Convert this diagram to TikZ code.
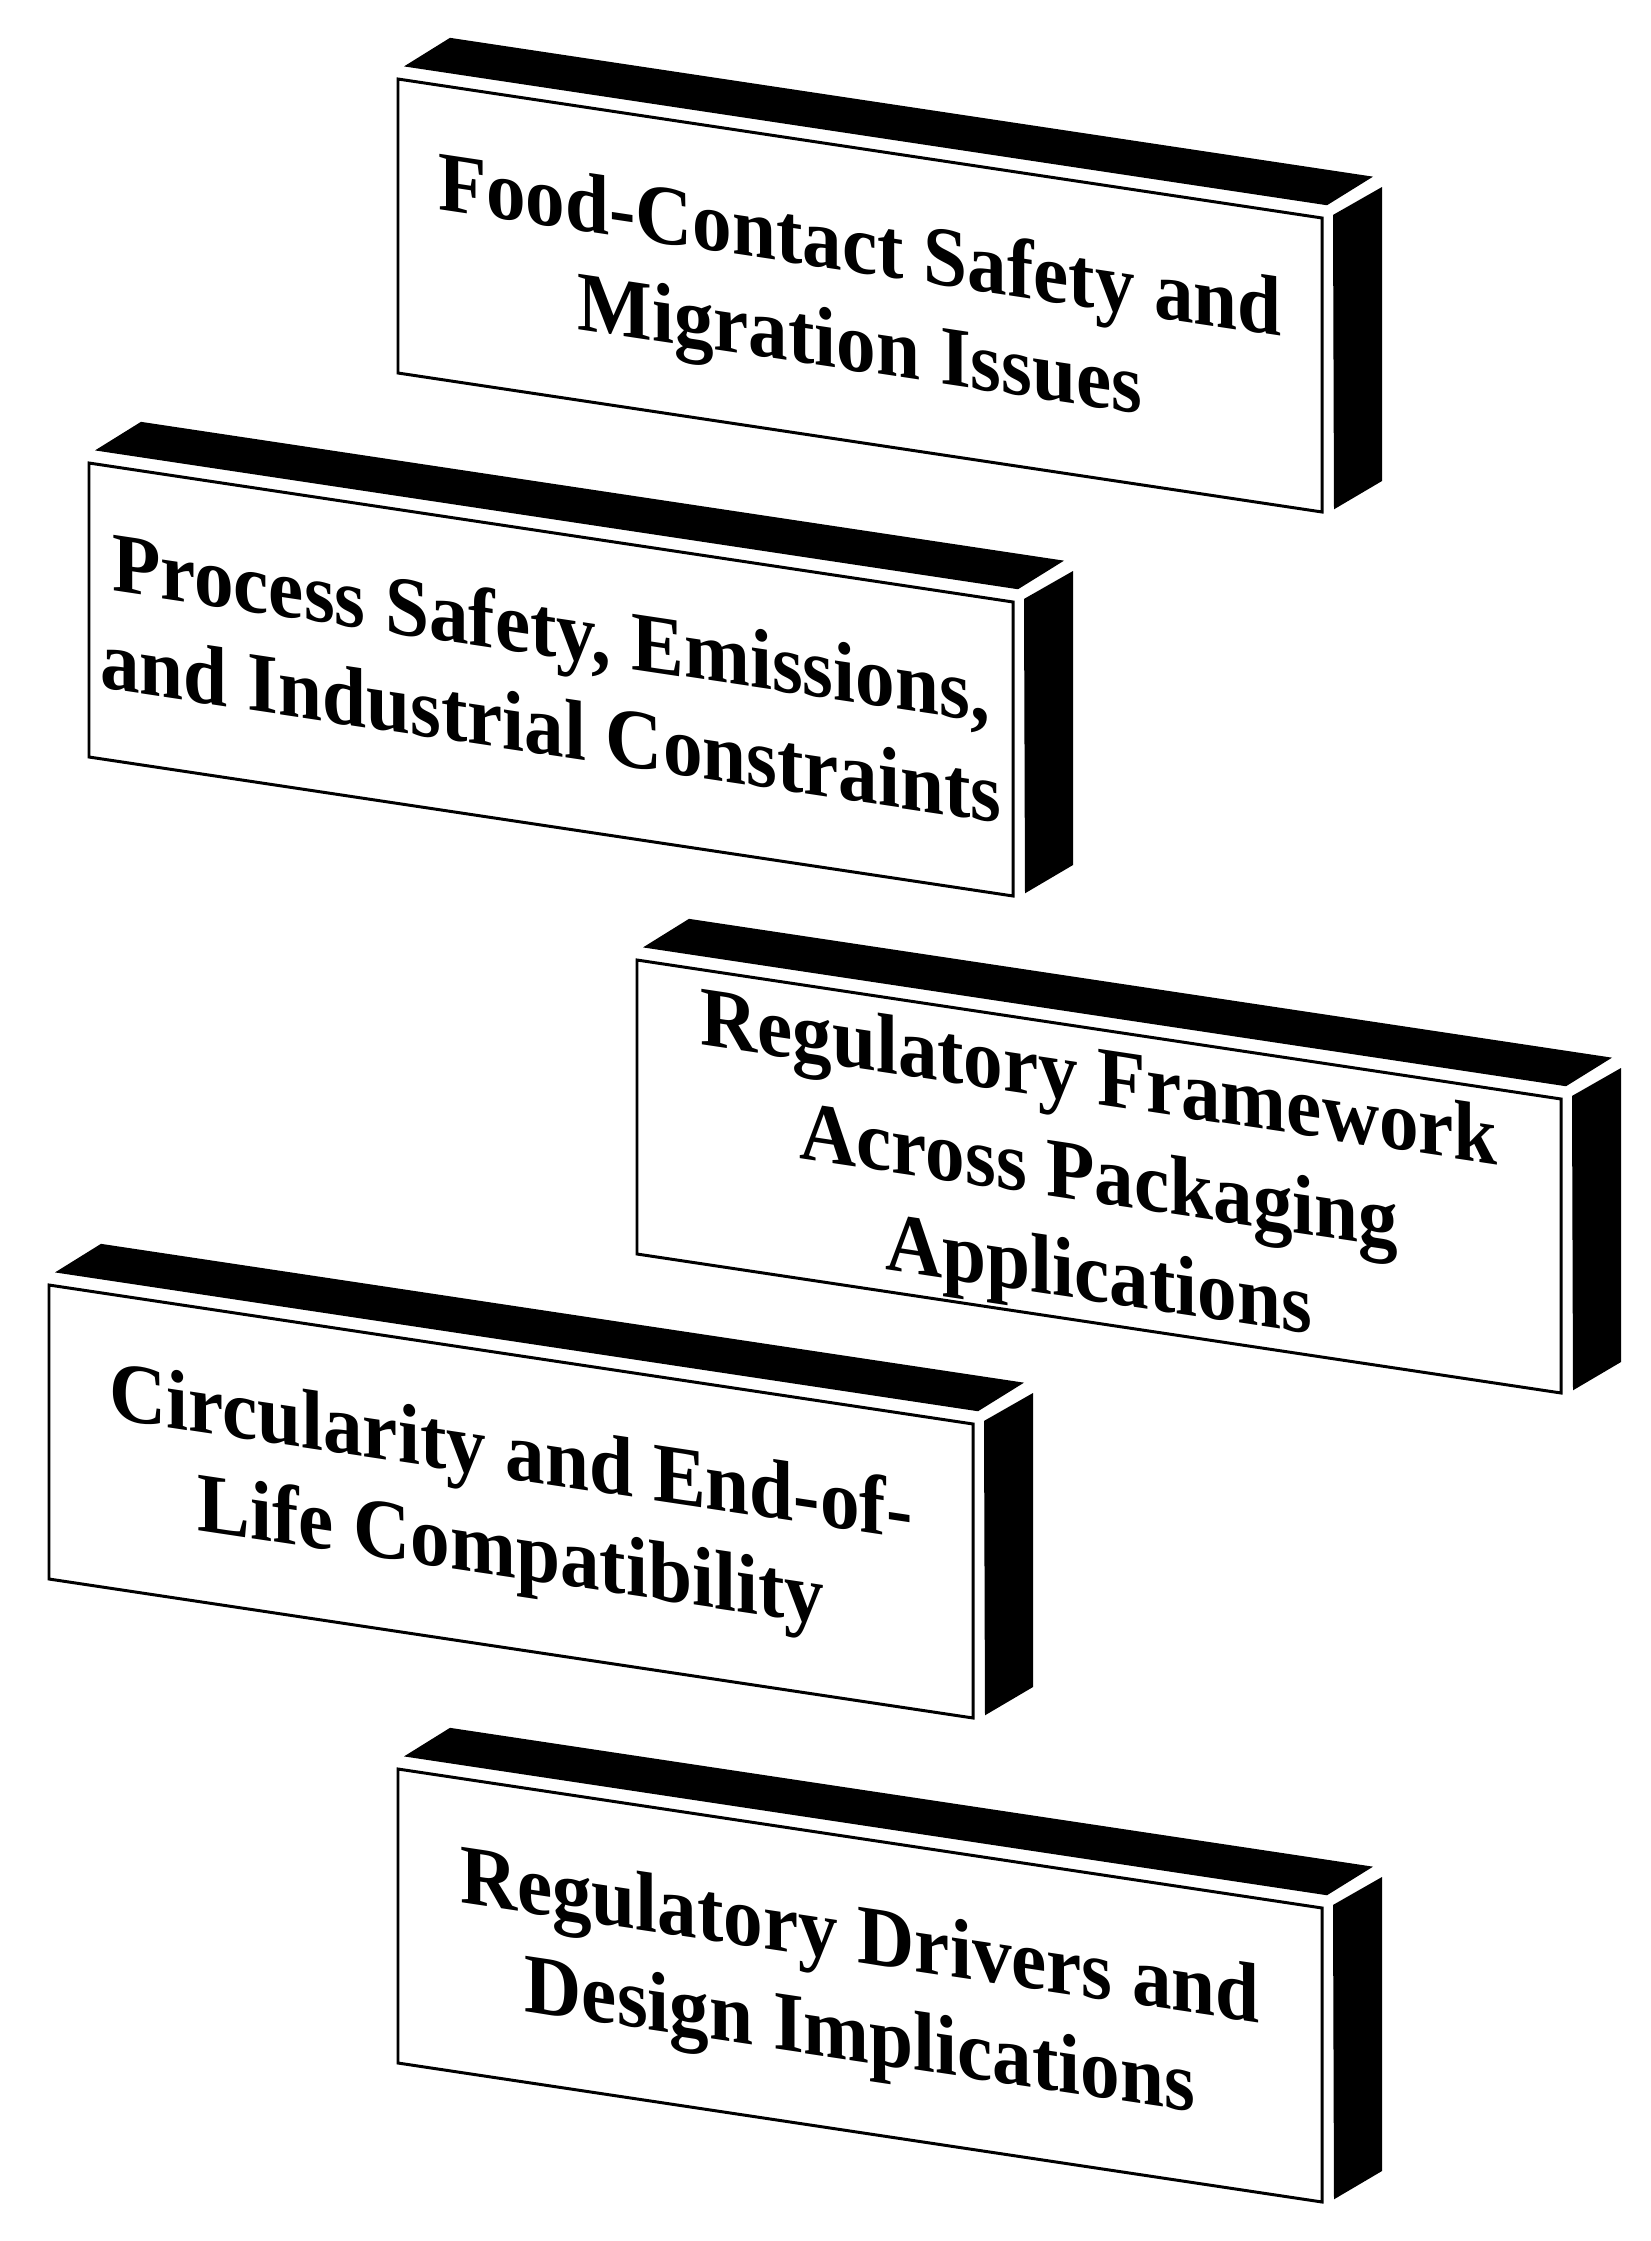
\documentclass[tikz,border=0pt]{standalone}
\usepackage{fontspec}
\setmainfont{Liberation Serif}
\usepackage{tikz}
\newcommand{\slab}[4]{%
    \begin{scope}[shift={(#1,#2)}, yslant=-0.1504]% front face is slanted, depth goes up-right
      \fill (6,-13.5) -- (52,-49) -- (975,-49) -- (929,-13.5) -- cycle;
      \fill (935,-4.7) -- (984,-40) -- (984,254) -- (936,289.5) -- cycle;
      \draw[facebox] (0,0) -- (924,0) -- (924,294) -- (0,294) -- cycle;
      \node[slabtext] (#3) at (462,154) {#4};
    \end{scope}
}

\begin{document}
\begin{tikzpicture}[x=0.01cm, y=-0.01cm,
    facebox/.style={draw=black, fill=white, line width=0.85pt},
    slabtext/.style={transform shape, align=center, inner sep=0pt, yscale=1.07,
                     font=\fontsize{22.5}{26.2}\selectfont\bfseries}]

    \useasboundingbox[fill=white] (0,0) rectangle (1650,2241);

    \slab{398}{79}{food}{\strut Food-Contact Safety and\\Migration Issues\strut}
    \slab{89}{463}{process}{\strut Process Safety, Emissions,\\and Industrial Constraints\strut}
    \slab{637}{960}{framework}{\strut Regulatory Framework\\Across Packaging\\Applications\strut}
    \slab{49}{1285}{circular}{\strut Circularity and End-of-\\Life Compatibility\strut}
    \slab{398}{1769}{drivers}{\strut Regulatory Drivers and\\Design Implications\strut}

\end{tikzpicture}
\end{document}
